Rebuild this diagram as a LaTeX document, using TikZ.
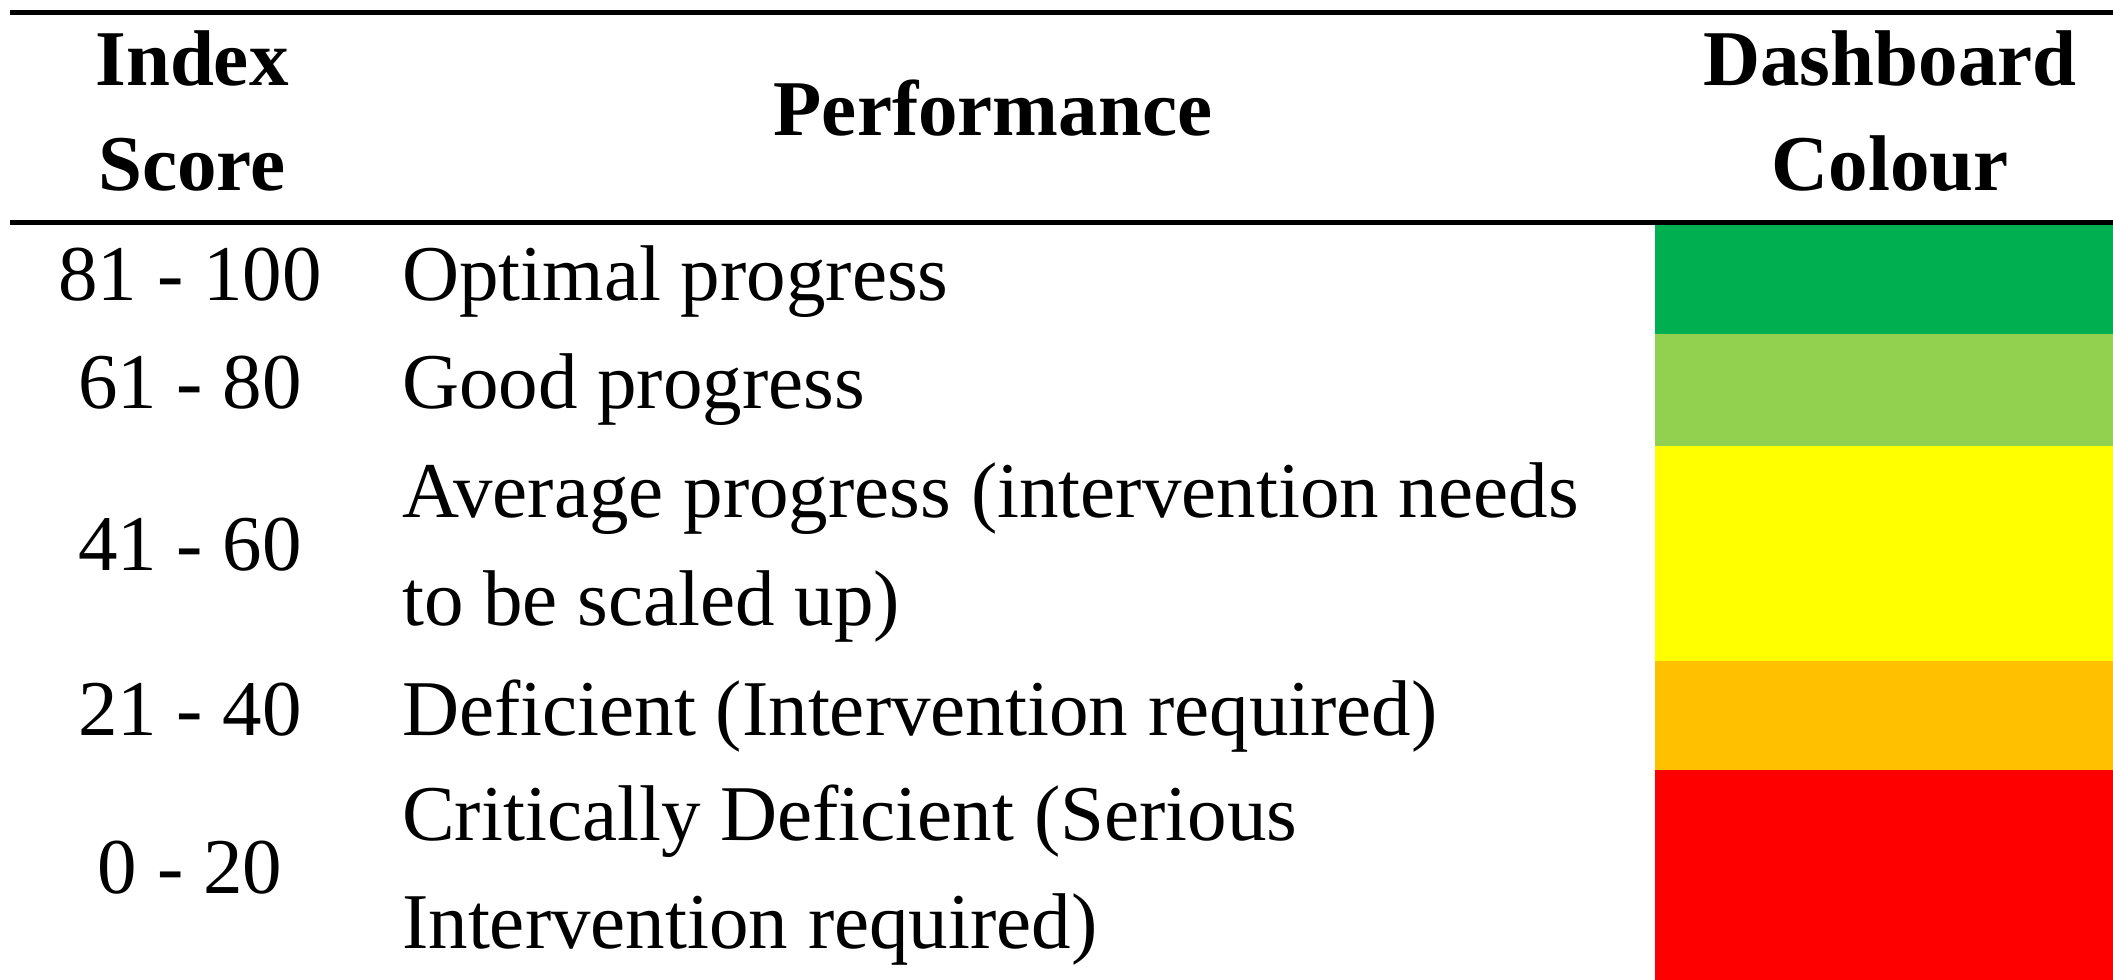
\documentclass[tikz,border=0pt]{standalone}
\usepackage{fontspec}
\setmainfont{Liberation Serif}
\definecolor{cgreen}{HTML}{00B050}
\definecolor{clgreen}{HTML}{92D050}
\definecolor{cyellow}{HTML}{FFFF00}
\definecolor{corange}{HTML}{FFC000}
\definecolor{cred}{HTML}{FF0000}
\begin{document}
\begin{tikzpicture}[x=1pt,y=-1pt,
  txt/.style={inner sep=0pt, anchor=base, font=\fontsize{79}{95}\selectfont},
  ltxt/.style={txt, anchor=base west},
  hdr/.style={txt, font=\fontsize{79}{95}\selectfont\bfseries},
  rulel/.style={line width=5pt, black}]
\useasboundingbox (0,0) rectangle (2113,980);
% colour swatches
\fill[cgreen]  (1655,224) rectangle (2113,334);
\fill[clgreen] (1655,334) rectangle (2113,446);
\fill[cyellow] (1655,446) rectangle (2113,661);
\fill[corange] (1655,661) rectangle (2113,770);
\fill[cred]    (1655,770) rectangle (2113,980);
% rules
\coordinate (t1) at (10,12);
\coordinate (t2) at (2113,12);
\coordinate (m1) at (10,222);
\coordinate (m2) at (2113,222);
\draw[rulel] (t1) -- (t2);
\draw[rulel] (m1) -- (m2);
% header
\node[hdr] (h1a) at (192,85) {Index};
\node[hdr] (h1b) at (192,190) {Score};
\node[hdr] (h2) at (993,135) {Performance};
\node[hdr] (h3a) at (1890,85) {Dashboard};
\node[hdr] (h3b) at (1890,190) {Colour};
% scores
\node[txt] (s1) at (190,300) {81 - 100};
\node[txt] (s2) at (190,408) {61 - 80};
\node[txt] (s3) at (190,570) {41 - 60};
\node[txt] (s4) at (190,735) {21 - 40};
\node[txt] (s5) at (190,893) {0 - 20};
% performance
\node[ltxt] (p1) at (402,300) {Optimal progress};
\node[ltxt] (p2) at (402,408) {Good progress};
\node[ltxt] (p3a) at (402,517) {Average progress (intervention needs};
\node[ltxt] (p3b) at (402,625) {to be scaled up)};
\node[ltxt] (p4) at (402,735) {Deficient (Intervention required)};
\node[ltxt] (p5a) at (402,840) {Critically Deficient (Serious};
\node[ltxt] (p5b) at (402,948) {Intervention required)};
\end{tikzpicture}
\end{document}
